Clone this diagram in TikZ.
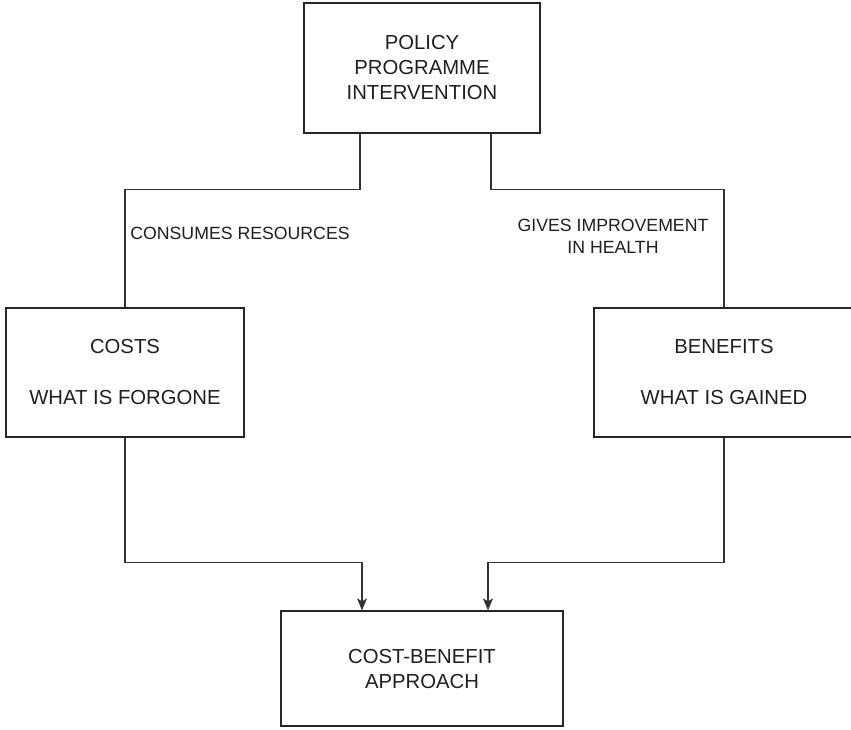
\documentclass[tikz,border=0pt]{standalone}
\usepackage{fontspec}
\setmainfont{Liberation Sans}
\usetikzlibrary{arrows.meta}

\begin{document}
\begin{tikzpicture}[x=1pt, y=-1pt,
    line width=1.3pt,
    % --- Styles ---
    mainBox/.style={
      draw=black!85,
      rectangle,
      inner sep=0pt,
      align=center,
      text=black!88,
      font=\fontsize{20.3}{25}\selectfont
    },
    edgeLabel/.style={
      inner sep=0pt,
      align=center,
      text=black!88,
      font=\fontsize{17.7}{22}\selectfont
    },
    flowLine/.style={
      draw=black!80,
      line width=1.1pt
    },
    flowArrow/.style={
      flowLine,
      -{Stealth[length=12pt, width=10pt, inset=3pt]}
    }
]
\useasboundingbox (0,0) rectangle (851,729);

%=====================
% Boxes
%=====================
\node[mainBox, minimum width=236pt, minimum height=130pt] (policy) at (422,68) {POLICY\\PROGRAMME\\INTERVENTION};
\node[mainBox, minimum width=238pt, minimum height=129pt] (costs) at (125,372.5) {COSTS\\[26pt]WHAT IS FORGONE};
\node[mainBox, minimum width=260pt, minimum height=129pt] (benefits) at (724,372.5) {BENEFITS\\[26pt]WHAT IS GAINED};
\node[mainBox, minimum width=282pt, minimum height=115pt] (cba) at (422,668.5) {COST-BENEFIT\\APPROACH};

%=====================
% Labels
%=====================
\node[edgeLabel] (consumes) at (240,233.5) {CONSUMES RESOURCES};
\node[edgeLabel] (gives) at (613,236) {GIVES IMPROVEMENT\\IN HEALTH};

%=====================
% Connectors
%=====================
\draw[flowLine] ([xshift=-62pt]policy.south) -- ++(0,56) -| (costs.north);
\draw[flowLine] ([xshift=69pt]policy.south) -- ++(0,56) -| (benefits.north);
\draw[flowArrow] (costs.south) -- ++(0,125) -| ([xshift=-60pt]cba.north);
\draw[flowArrow] (benefits.south) -- ++(0,125) -| ([xshift=66pt]cba.north);

\end{tikzpicture}
\end{document}
